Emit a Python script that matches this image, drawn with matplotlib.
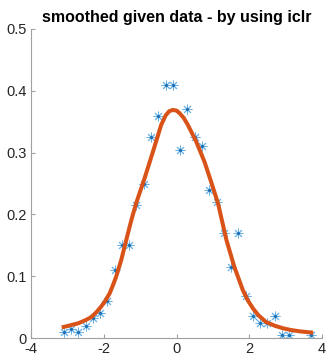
import numpy as np
import matplotlib.pyplot as plt

plt.rcParams['font.family'] = ['Liberation Sans', 'DejaVu Sans']
plt.rcParams['axes.unicode_minus'] = False

# given data
x_data = [-3.1, -2.9, -2.7, -2.5, -2.3, -2.1, -1.9, -1.7, -1.5, -1.3, -1.1,
          -0.9, -0.7, -0.5, -0.3, -0.1, 0.1, 0.3, 0.5, 0.7, 0.9, 1.1, 1.3,
          1.5, 1.7, 1.9, 2.1, 2.3, 2.5, 2.7, 2.9, 3.1, 3.7]
y_data = [0.010, 0.015, 0.010, 0.020, 0.033, 0.040, 0.060, 0.110, 0.150,
          0.150, 0.215, 0.250, 0.325, 0.360, 0.410, 0.410, 0.305, 0.370,
          0.325, 0.310, 0.240, 0.220, 0.170, 0.115, 0.170, 0.068, 0.035,
          0.025, 0.025, 0.035, 0.005, 0.005, 0.005]

# smoothed curve
x_smooth = [-3.1, -2.9, -2.7, -2.5, -2.34, -2.2, -2.07, -1.95, -1.84, -1.75,
            -1.66, -1.52, -1.38, -1.24, -1.11, -0.88, -0.65, -0.42, -0.3,
            -0.2, -0.1, 0.0, 0.08, 0.2, 0.31, 0.54, 0.77, 0.95, 1.14, 1.37,
            1.59, 1.82, 1.95, 2.1, 2.25, 2.46, 2.7, 2.92, 3.15, 3.38, 3.7]
y_smooth = [0.018, 0.021, 0.024, 0.029, 0.034, 0.042, 0.051, 0.061, 0.072,
            0.085, 0.099, 0.126, 0.159, 0.191, 0.218, 0.258, 0.301, 0.345,
            0.360, 0.367, 0.369, 0.368, 0.364, 0.356, 0.345, 0.318, 0.285,
            0.253, 0.218, 0.159, 0.115, 0.078, 0.062, 0.048, 0.037, 0.026,
            0.020, 0.016, 0.013, 0.011, 0.009]

fig = plt.figure(figsize=(3.29, 3.62), dpi=100)
ax = fig.add_axes([0.094, 0.066, 0.885, 0.854])

ax.plot(x_data, y_data, linestyle='none', marker=(8, 2, 0), markersize=7,
        markeredgewidth=0.7, color='#6bb3e6', markeredgecolor='#6bb3e6')
ax.plot(x_data, y_data, linestyle='none', marker='.', markersize=2.5,
        color='#1f6fb5')
ax.plot(x_smooth, y_smooth, color='#d95319', linewidth=2.9)

ax.set_xlim(-4, 4)
ax.set_ylim(0, 0.5)
ax.set_xticks([-4, -2, 0, 2, 4])
ax.set_yticks([0, 0.1, 0.2, 0.3, 0.4, 0.5])
ax.set_yticklabels(['0', '0.1', '0.2', '0.3', '0.4', '0.5'])
ax.spines['top'].set_visible(False)
ax.spines['right'].set_visible(False)
for s in ['left', 'bottom']:
    ax.spines[s].set_color('#a0a0a0')
    ax.spines[s].set_linewidth(0.8)
ax.tick_params(direction='in', length=3, color='#a0a0a0', labelsize=10.5,
               labelcolor='#262626', pad=3)
ax.set_title('smoothed given data - by using iclr', fontsize=11.5,
             fontweight='bold', pad=5)

fig.savefig('out.png', dpi=100)
